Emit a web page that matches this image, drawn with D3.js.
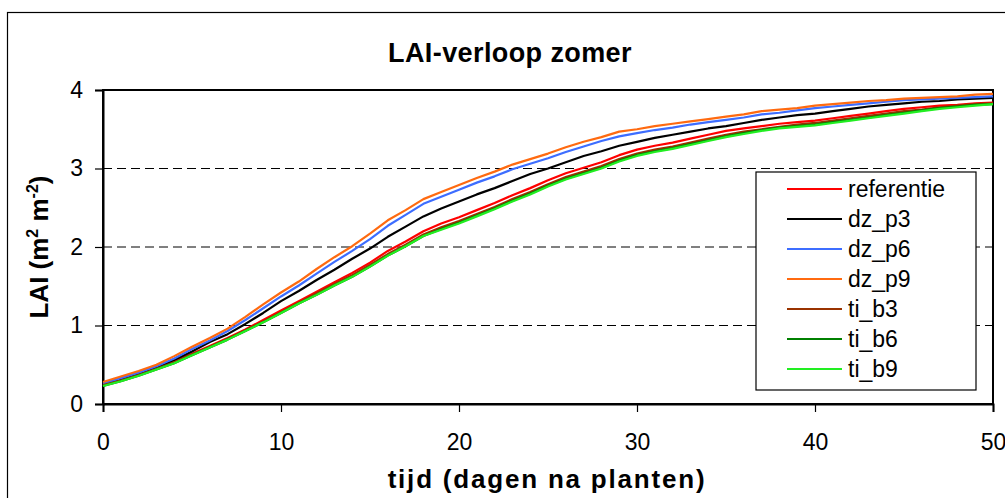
<!DOCTYPE html>
<html><head><meta charset="utf-8">
<script src="https://cdn.jsdelivr.net/npm/d3@7"></script>
<style>body{margin:0;background:#fff}svg{display:block}</style>
</head><body>
<script>
const days = d3.range(0, 51);
const seriesNames = ["referentie","dz_p3","dz_p6","dz_p9","ti_b3","ti_b6","ti_b9"];
const seriesColors = ["#ff0000","#000000","#3d6dff","#ff6a10","#993300","#008000","#22ee22"];
const referentie = [0.25,0.31,0.38,0.45,0.54,0.64,0.74,0.84,0.95,1.07,1.19,1.31,1.43,1.55,1.67,1.80,1.95,2.07,2.20,2.30,2.38,2.47,2.56,2.66,2.75,2.85,2.94,3.01,3.08,3.17,3.24,3.29,3.33,3.38,3.43,3.48,3.51,3.54,3.57,3.59,3.61,3.64,3.67,3.70,3.73,3.76,3.78,3.80,3.81,3.83,3.84];
const dz_p3 = [0.25,0.32,0.39,0.46,0.56,0.67,0.79,0.89,1.02,1.16,1.31,1.44,1.58,1.71,1.85,1.98,2.13,2.26,2.39,2.49,2.58,2.67,2.75,2.84,2.93,3.00,3.08,3.16,3.22,3.29,3.34,3.39,3.43,3.47,3.51,3.54,3.58,3.62,3.65,3.68,3.70,3.73,3.76,3.79,3.81,3.83,3.85,3.86,3.88,3.89,3.90];
const dz_p6 = [0.26,0.33,0.40,0.48,0.58,0.70,0.81,0.93,1.07,1.22,1.37,1.51,1.66,1.81,1.95,2.10,2.27,2.41,2.55,2.64,2.73,2.82,2.90,2.99,3.06,3.13,3.21,3.28,3.35,3.41,3.45,3.49,3.52,3.56,3.59,3.62,3.65,3.69,3.71,3.74,3.77,3.79,3.81,3.83,3.85,3.87,3.88,3.89,3.90,3.91,3.92];
const dz_p9 = [0.28,0.35,0.42,0.50,0.61,0.73,0.84,0.96,1.11,1.27,1.42,1.56,1.72,1.87,2.01,2.17,2.34,2.47,2.61,2.70,2.79,2.88,2.96,3.05,3.12,3.19,3.27,3.34,3.40,3.47,3.50,3.54,3.57,3.60,3.63,3.66,3.69,3.73,3.75,3.77,3.80,3.82,3.84,3.86,3.87,3.89,3.90,3.91,3.92,3.94,3.95];
const ti_b3 = [0.24,0.30,0.37,0.45,0.53,0.63,0.73,0.83,0.94,1.05,1.17,1.29,1.41,1.53,1.64,1.77,1.91,2.03,2.16,2.25,2.33,2.42,2.51,2.61,2.70,2.80,2.89,2.96,3.03,3.12,3.19,3.24,3.28,3.33,3.38,3.43,3.47,3.50,3.53,3.56,3.58,3.61,3.64,3.67,3.70,3.73,3.75,3.78,3.80,3.82,3.83];
const ti_b6 = [0.23,0.29,0.36,0.44,0.52,0.62,0.72,0.82,0.93,1.04,1.16,1.28,1.39,1.51,1.62,1.75,1.89,2.01,2.14,2.23,2.31,2.40,2.49,2.59,2.68,2.78,2.87,2.94,3.01,3.10,3.17,3.22,3.26,3.31,3.36,3.41,3.45,3.49,3.52,3.54,3.56,3.59,3.62,3.65,3.68,3.71,3.74,3.77,3.79,3.81,3.82];
const ti_b9 = [0.23,0.29,0.36,0.44,0.52,0.62,0.72,0.82,0.93,1.04,1.16,1.28,1.39,1.51,1.62,1.75,1.89,2.01,2.14,2.22,2.30,2.39,2.48,2.58,2.67,2.77,2.86,2.93,3.00,3.09,3.16,3.21,3.25,3.30,3.35,3.40,3.44,3.48,3.51,3.53,3.55,3.58,3.61,3.64,3.67,3.70,3.73,3.76,3.78,3.80,3.82];
const xTicks = [0,10,20,30,40,50];
const yTicks = [0,1,2,3,4];
const gridValues = [1,2,3];

const seriesValues = [referentie,dz_p3,dz_p6,dz_p9,ti_b3,ti_b6,ti_b9];

const W = 1005, H = 498;
const svg = d3.select("body").append("svg").attr("width", W).attr("height", H)
  .style("font-family", "Arial, 'Liberation Sans', sans-serif");

// outer chart frame
svg.append("rect").attr("x", 7.5).attr("y", 12.5).attr("width", W + 20).attr("height", H + 20)
  .attr("fill", "#fff").attr("stroke", "#000").attr("stroke-width", 1.2);

const L = 103, R = 993, T = 90, B = 404;
const x = d3.scaleLinear().domain([0, 50]).range([L, R]);
const y = d3.scaleLinear().domain([0, 4]).range([B, T]);

// gridlines
svg.append("g").selectAll("line").data(gridValues).join("line")
  .attr("x1", L).attr("x2", R).attr("y1", d => y(d)).attr("y2", d => y(d))
  .attr("stroke", "#000").attr("stroke-width", 1).attr("stroke-dasharray", "9,5");

// plot border
svg.append("rect").attr("x", L).attr("y", T).attr("width", R - L).attr("height", B - T)
  .attr("fill", "none").attr("stroke", "#000").attr("stroke-width", 2);

// axes
const xAxis = svg.append("g").attr("transform", `translate(0,${B})`)
  .call(d3.axisBottom(x).tickValues(xTicks).tickSize(8).tickPadding(22).tickFormat(d3.format("d")));
const yAxis = svg.append("g").attr("transform", `translate(${L},0)`)
  .call(d3.axisLeft(y).tickValues(yTicks).tickSize(8).tickPadding(12).tickFormat(d3.format("d")));
[xAxis, yAxis].forEach(a => {
  a.select(".domain").attr("stroke", "#000").attr("stroke-width", 2);
  a.selectAll(".tick line").attr("stroke", "#000").attr("stroke-width", 1.2);
  a.selectAll(".tick text").attr("fill", "#000").style("font-size", "23px")
    .style("font-family", "Arial, 'Liberation Sans', sans-serif");
});

// lines
const line = d3.line().x((d, i) => x(days[i])).y(d => y(d));
svg.append("g").selectAll("path").data(seriesValues).join("path")
  .attr("d", d => line(d)).attr("fill", "none")
  .attr("stroke", (d, i) => seriesColors[i]).attr("stroke-width", 2.2)
  .attr("stroke-linejoin", "round");

// title
svg.append("text").attr("x", 510).attr("y", 62).attr("text-anchor", "middle")
  .style("font-size", "27px").style("font-weight", "bold").style("letter-spacing", "0.4px")
  .text("LAI-verloop zomer");

// x title
svg.append("text").attr("x", 547).attr("y", 488).attr("text-anchor", "middle")
  .style("font-size", "26px").style("font-weight", "bold").style("letter-spacing", "1.8px")
  .text("tijd (dagen na planten)");

// y title
const yt = svg.append("text").attr("transform", "translate(48,247) rotate(-90)")
  .attr("text-anchor", "middle").style("font-size", "26px").style("font-weight", "bold");
yt.append("tspan").text("LAI (m");
yt.append("tspan").attr("dy", -10).style("font-size", "16px").text("2");
yt.append("tspan").attr("dy", 10).text(" m");
yt.append("tspan").attr("dy", -10).style("font-size", "16px").text("-2");
yt.append("tspan").attr("dy", 10).text(")");

// legend
const lg = svg.append("g");
lg.append("rect").attr("x", 756).attr("y", 172).attr("width", 220).attr("height", 218)
  .attr("fill", "#fff").attr("stroke", "#000").attr("stroke-width", 1.2);
const rows = lg.selectAll("g.row").data(seriesNames).join("g")
  .attr("transform", (d, i) => `translate(0,${189 + i * 30})`);
rows.append("line").attr("x1", 787).attr("x2", 842).attr("y1", 0).attr("y2", 0)
  .attr("stroke", (d, i) => seriesColors[i]).attr("stroke-width", 2.2);
rows.append("text").attr("x", 848).attr("y", 8).style("font-size", "23px").text(d => d);
</script>
</body></html>
